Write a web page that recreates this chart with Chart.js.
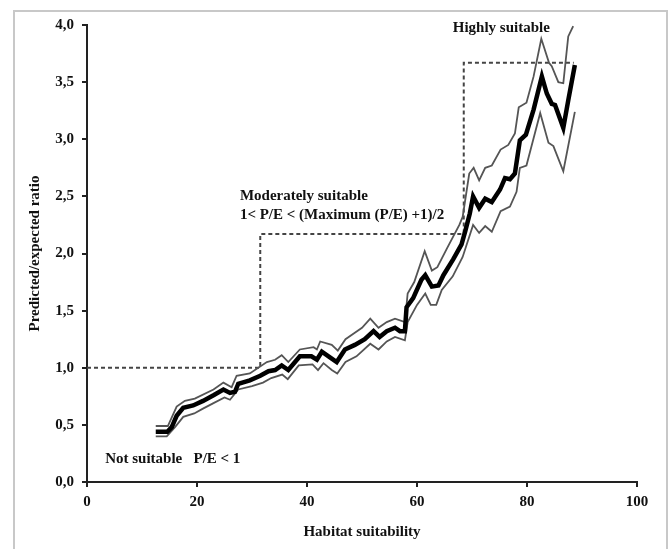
<!DOCTYPE html>
<html><head><meta charset="utf-8">
<script src="https://cdn.jsdelivr.net/npm/chart.js@4/dist/chart.umd.min.js"></script>
<style>html,body{margin:0;padding:0;background:#fff}#wrap{width:671px;height:549px}</style>
</head><body><div id="wrap"><canvas id="c" width="671" height="549"></canvas></div>
<script>
// Main predicted/expected curve
const meanX = [12.5,14.6,15.4,16.3,17.5,19.3,21.1,23.0,24.8,26.0,26.9,27.5,29.6,31.5,33.0,34.2,35.4,36.6,38.7,40.8,41.8,42.7,44.5,45.4,46.9,48.7,50.5,52.1,53.2,54.5,56.0,56.9,57.8,58.1,59.3,60.8,61.5,62.7,63.9,64.8,66.6,68.1,68.8,69.6,70.2,71.3,72.4,73.6,75.1,76.0,76.9,77.8,78.7,79.8,81.2,82.7,83.6,84.5,85.1,86.6,87.5,88.7];
const meanY = [0.44,0.44,0.48,0.58,0.65,0.67,0.71,0.76,0.81,0.78,0.79,0.86,0.89,0.93,0.97,0.98,1.02,0.98,1.10,1.10,1.07,1.14,1.08,1.05,1.16,1.20,1.25,1.32,1.27,1.32,1.35,1.32,1.32,1.53,1.61,1.77,1.81,1.71,1.72,1.81,1.95,2.08,2.20,2.35,2.50,2.40,2.48,2.45,2.56,2.66,2.65,2.70,2.99,3.04,3.26,3.55,3.40,3.31,3.30,3.10,3.34,3.65];
// Upper confidence band
const upperX = [12.5,14.7,16.3,17.8,19.6,23.0,24.8,26.3,27.2,29.6,32.7,34.2,35.4,36.6,38.7,41.2,41.8,42.4,44.5,45.6,47.0,48.5,50.0,51.5,53.0,54.5,56.0,57.8,58.3,59.5,61.4,62.7,63.7,65.5,67.7,68.3,69.5,70.3,71.3,72.4,73.6,75.2,76.6,77.8,78.5,79.9,81.2,82.6,84.0,84.5,85.7,86.6,87.5,88.4];
const upperY = [0.49,0.49,0.66,0.71,0.73,0.81,0.87,0.83,0.93,0.95,1.05,1.07,1.11,1.05,1.16,1.18,1.16,1.23,1.20,1.15,1.25,1.30,1.35,1.43,1.35,1.40,1.43,1.40,1.65,1.75,2.02,1.85,1.88,2.05,2.25,2.32,2.70,2.75,2.64,2.75,2.77,2.91,2.95,3.05,3.28,3.32,3.55,3.88,3.67,3.64,3.50,3.49,3.90,3.99];
// Lower confidence band
const lowerX = [12.5,14.5,16.0,17.5,19.5,21.0,23.0,25.0,26.0,27.5,30.0,32.0,33.5,35.5,36.5,38.5,41.0,42.0,43.0,44.5,45.5,47.0,49.0,51.5,53.0,54.5,56.0,57.8,58.3,60.0,61.5,62.5,63.5,64.5,66.5,68.3,70.2,71.3,72.4,73.6,75.2,76.9,78.1,78.7,79.9,82.4,83.9,84.8,86.6,88.7];
const lowerY = [0.40,0.40,0.48,0.57,0.60,0.64,0.69,0.74,0.72,0.81,0.84,0.87,0.91,0.94,0.90,1.02,1.03,0.98,1.04,0.98,0.95,1.05,1.10,1.21,1.16,1.23,1.27,1.24,1.40,1.55,1.65,1.55,1.55,1.68,1.80,1.97,2.25,2.18,2.24,2.19,2.37,2.41,2.54,2.75,2.77,3.23,2.97,2.94,2.72,3.24];
// Suitability class thresholds (dashed step)
const stepX = [0,31.5,31.5,68.5,68.5,88.5];
const stepY = [1.0,1.0,2.17,2.17,3.67,3.67];
// Axis ticks
const xTicks = [0,20,40,60,80,100];
const yTicks = [0,0.5,1,1.5,2,2.5,3,3.5,4];
// Annotation labels
const labels = [
  {text:'Highly suitable', x:66.5, y:3.97},
  {text:'Moderately suitable', x:27.8, y:2.50},
  {text:'1< P/E < (Maximum (P/E) +1)/2', x:27.8, y:2.34},
  {text:'Not suitable   P/E < 1', x:3.3, y:0.20}
];

const zip = (xs, ys) => xs.map((x,i)=>({x:x, y:ys[i]}));
const FONT = "'Liberation Serif', 'Times New Roman', serif";
const FS = 15;

const framePlugin = {
  id:'frame',
  beforeDraw(chart){
    const ctx = chart.ctx;
    ctx.save();
    ctx.fillStyle = '#fff';
    ctx.fillRect(0,0,chart.width,chart.height);
    ctx.strokeStyle = '#c8c8c8';
    ctx.lineWidth = 2;
    ctx.strokeRect(14, 11, 653, 560);
    ctx.restore();
  },
  afterDatasetsDraw(chart){
    const ctx = chart.ctx, xs = chart.scales.x, ys = chart.scales.y;
    ctx.save();
    ctx.fillStyle = '#111';
    ctx.font = 'bold ' + FS + 'px ' + FONT;
    ctx.textAlign = 'left';
    ctx.textBaseline = 'middle';
    labels.forEach(l => ctx.fillText(l.text, xs.getPixelForValue(l.x), ys.getPixelForValue(l.y)));
    ctx.restore();
  }
};

new Chart(document.getElementById('c'), {
  type:'scatter',
  data:{datasets:[
    {data:zip(stepX,stepY), showLine:true, borderColor:'#444', borderWidth:2, borderDash:[4,3], pointRadius:0, tension:0, order:4},
    {data:zip(upperX,upperY), showLine:true, borderColor:'#555', borderWidth:1.8, pointRadius:0, tension:0, order:3},
    {data:zip(lowerX,lowerY), showLine:true, borderColor:'#555', borderWidth:1.8, pointRadius:0, tension:0, order:2},
    {data:zip(meanX,meanY), showLine:true, borderColor:'#000', borderWidth:4.5, pointRadius:0, tension:0, order:1}
  ]},
  options:{
    responsive:false, animation:false, devicePixelRatio:1,
    layout:{padding:{left:14, top:25, right:34, bottom:0}},
    plugins:{legend:{display:false}, tooltip:{enabled:false}},
    scales:{
      x:{
        type:'linear', min:0, max:100,
        afterBuildTicks(s){ s.ticks = xTicks.map(v=>({value:v})); },
        afterFit(s){ s.height = 67; },
        grid:{display:true, drawOnChartArea:false, drawTicks:true, tickLength:5, color:'#222', lineWidth:2},
        border:{display:true, color:'#222', width:2},
        ticks:{color:'#111', font:{family:FONT, size:FS, weight:'bold'}, padding:6, maxRotation:0},
        title:{display:true, text:'Habitat suitability', color:'#111', font:{family:FONT, size:FS, weight:'bold'}, padding:{top:0, bottom:8}}
      },
      y:{
        type:'linear', min:0, max:4,
        afterBuildTicks(s){ s.ticks = yTicks.map(v=>({value:v})); },
        afterFit(s){ s.width = 73; },
        grid:{display:true, drawOnChartArea:false, drawTicks:true, tickLength:5, color:'#222', lineWidth:2},
        border:{display:true, color:'#222', width:2},
        ticks:{color:'#111', font:{family:FONT, size:FS, weight:'bold'}, padding:8, callback:v=>Number(v).toFixed(1).replace('.',',')},
        title:{display:true, text:'Predicted/expected ratio', color:'#111', font:{family:FONT, size:FS, weight:'bold'}, padding:{top:12, bottom:0}}
      }
    }
  },
  plugins:[framePlugin]
});
</script></body></html>
